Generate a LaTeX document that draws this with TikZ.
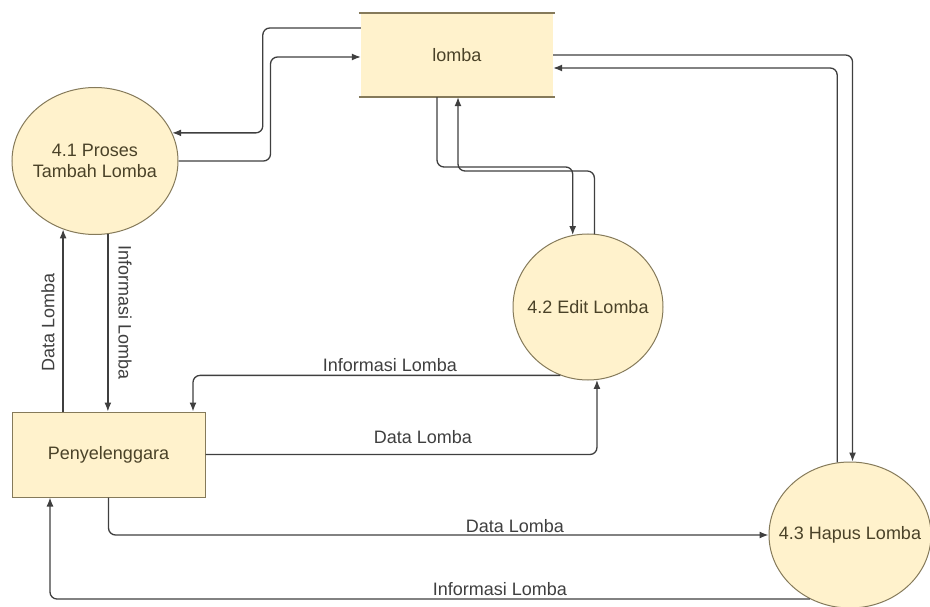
\documentclass[tikz,border=0pt]{standalone}
\usepackage{fontspec}
\setmainfont{Liberation Sans}
\usepackage{tikz}
\usetikzlibrary{shapes, arrows.meta, positioning, calc}
\definecolor{boxfill}{HTML}{FFF2CC}
\definecolor{boxline}{HTML}{857A5A}
\definecolor{boxtext}{HTML}{4A4228}
\definecolor{flowline}{HTML}{3F3F3F}

\begin{document}
\begin{tikzpicture}[x=1pt, y=-1pt, font=\fontsize{18}{21}\selectfont,
		proc/.style={ellipse, draw=boxline, line width=1pt, fill=boxfill, inner xsep=-50pt, inner ysep=-20pt, text=boxtext, align=center},
		ent/.style={rectangle, draw=boxline, line width=1pt, fill=boxfill, text=boxtext},
		flow/.style={draw=flowline, line width=1.3pt, rounded corners=7pt, -{Latex[length=9pt,width=7pt]}},
		lbl/.style={text=flowline, inner sep=1pt}]
			\useasboundingbox (0,0) rectangle (930,607);
			% data store
			\node[fill=boxfill, text=boxtext, minimum width=192pt, minimum height=84pt] (lomba) at (457,55) {lomba};
			\draw[boxline, line width=2pt] ([xshift=-2pt]lomba.north west) -- ([xshift=2pt]lomba.north east);
			\draw[boxline, line width=1.6pt] ([xshift=-2pt]lomba.south west) -- ([xshift=2pt]lomba.south east);
			% processes and entity
			\node[proc, minimum width=166pt, minimum height=147pt] (p41) at (95,161) {4.1 Proses\\Tambah Lomba};
			\node[proc, minimum width=150pt, minimum height=146pt] (p42) at (588,307) {4.2 Edit Lomba};
			\node[proc, minimum width=162pt, minimum height=146pt] (p43) at (850,535) {4.3 Hapus Lomba};
			\node[ent, minimum width=193pt, minimum height=85pt] (peny) at (108.5,454.5) {Penyelenggara};
			% lomba <-> 4.1
			\draw[flow] (lomba.west |- 0,28) -- ++(-98,0) |- (p41.20);
			\draw[flow] (p41.east) -- ++(92,0) |- (lomba.west |- 0,57);
			% lomba <-> 4.2
			\draw[flow] (lomba.south -| 437,0) -- (437,167) -| (p42.102);
			\draw[flow] (p42.85) |- (458,171) -- (lomba.south -| 458,0);
			% lomba <-> 4.3
			\draw[flow] (lomba.east) -| (p43.88);
			\draw[flow] (p43.100) |- (lomba.east |- 0,68);
			% penyelenggara <-> 4.1
			\draw[flow] (peny.north -| p41.-115) -- (p41.-115);
			\draw[flow] (p41.-80) -- (peny.north -| p41.-80);
			\node[lbl, rotate=90] (dl1) at (48,322) {Data Lomba};
			\node[lbl, rotate=-90] (il1) at (125,313) {Informasi Lomba};
			% penyelenggara <-> 4.2
			\draw[flow] (p42.-112) -| (peny.north -| 193,0);
			\draw[flow] (peny.east) -| (p42.-83);
			\node[lbl] (il2) at (390,365) {Informasi Lomba};
			\node[lbl] (dl2) at (423,437) {Data Lomba};
			% penyelenggara <-> 4.3
			\draw[flow] (peny.south) |- (p43.west);
			\draw[flow] (p43.-122) -| (peny.south -| 50,0);
			\node[lbl] (dl3) at (515,526) {Data Lomba};
			\node[lbl] (il3) at (500,589) {Informasi Lomba};
		\end{tikzpicture}
\end{document}
